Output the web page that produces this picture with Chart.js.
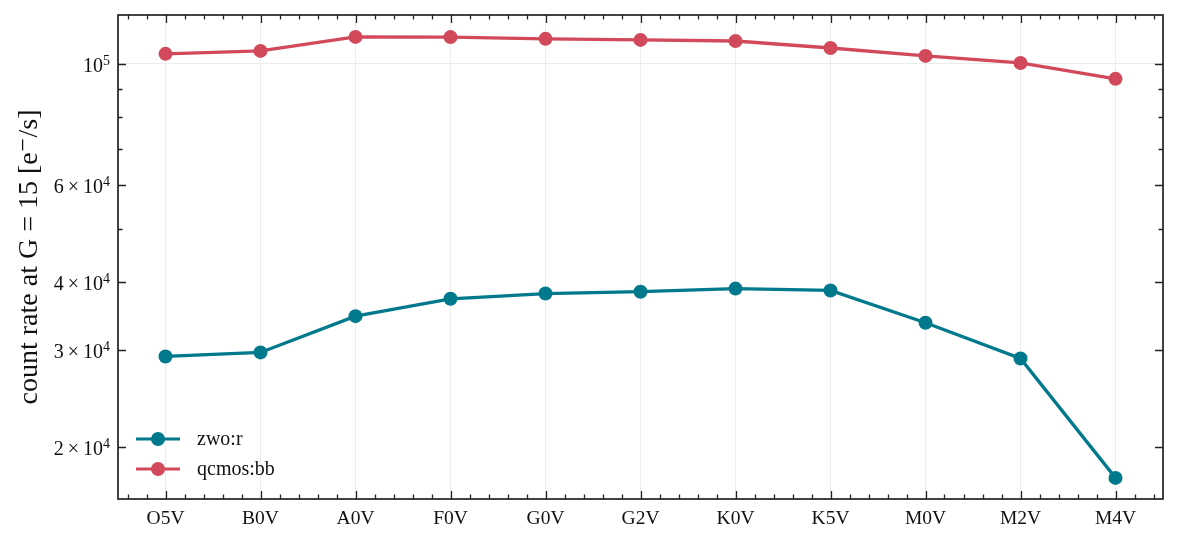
<!DOCTYPE html>
<html>
<head>
<meta charset="utf-8">
<script src="https://cdn.jsdelivr.net/npm/chart.js@4.4.1/dist/chart.umd.min.js"></script>
<style>
  html, body { margin: 0; padding: 0; background: #fff; }
</style>
</head>
<body>
<canvas id="countRate" width="1179" height="542"></canvas>
<script>
// spectral types along x
const spectralTypes = ['O5V', 'B0V', 'A0V', 'F0V', 'G0V', 'G2V', 'K0V', 'K5V', 'M0V', 'M2V', 'M4V'];

// count rates [e-/s]
const zwoR = [29250, 29750, 34650, 37270, 38100, 38400, 38900, 38600, 33700, 29000, 17560];
const qcmosBB = [104300, 105600, 112000, 111900, 111100, 110600, 110100, 106900, 103400, 100400, 93900];

// y ticks: mantissa list, and which carry labels
const yTickValues = [20000, 30000, 40000, 50000, 60000, 70000, 80000, 90000, 100000];
const yTickLabels = {
    20000: ['2\u2009\u00d7\u200910', '4'],
    30000: ['3\u2009\u00d7\u200910', '4'],
    40000: ['4\u2009\u00d7\u200910', '4'],
    60000: ['6\u2009\u00d7\u200910', '4'],
    100000: ['10', '5']
};
const yMin = 16070, yMax = 122800;

const teal = '#00798c';
const red = '#d1495b';
const serif = '"Liberation Serif", "DejaVu Serif", serif';

// frame, inward ticks, y labels, y title, legend
const decorations = {
    id: 'decorations',
    afterDraw(chart) {
        const c = chart.ctx;
        const a = chart.chartArea;
        const xs = chart.scales.x, ys = chart.scales.y;
        c.save();
        c.strokeStyle = '#222';
        c.lineWidth = 1.3;
        // y ticks both sides
        yTickValues.forEach(v => {
            const y = Math.round(ys.getPixelForValue(v)) + 0.5;
            const len = yTickLabels[v] ? 8 : 4.5;
            c.beginPath();
            c.moveTo(a.left, y); c.lineTo(a.left + len, y);
            c.moveTo(a.right, y); c.lineTo(a.right - len, y);
            c.stroke();
        });
        // x ticks, major + 4 minor per category
        const step = xs.getPixelForValue(1) - xs.getPixelForValue(0);
        for (let i = -1; i <= spectralTypes.length; i++) {
            for (let k = 0; k < 5; k++) {
                const x = Math.round(xs.getPixelForValue(0) + (i + k / 5) * step) + 0.5;
                if (x < a.left + 2 || x > a.right - 2) continue;
                const len = k === 0 ? 8 : 4.5;
                c.beginPath();
                c.moveTo(x, a.bottom); c.lineTo(x, a.bottom - len);
                c.moveTo(x, a.top); c.lineTo(x, a.top + len);
                c.stroke();
            }
        }
        // frame
        c.lineWidth = 1.7;
        c.strokeRect(a.left, a.top, a.right - a.left, a.bottom - a.top);

        // y tick labels with superscript exponent
        c.fillStyle = '#111';
        c.textBaseline = 'alphabetic';
        Object.keys(yTickLabels).forEach(k => {
            const v = Number(k);
            const [base, exp] = yTickLabels[k];
            const y = ys.getPixelForValue(v);
            c.font = '14px ' + serif;
            const ew = c.measureText(exp).width;
            c.textAlign = 'right';
            const right = a.left - 8;
            c.fillText(exp, right, y + 1);
            c.font = '20px ' + serif;
            c.fillText(base, right - ew, y + 8);
        });

        // y title
        c.save();
        c.translate(30, (a.top + a.bottom) / 2);
        c.rotate(-Math.PI / 2);
        c.textAlign = 'center';
        c.textBaseline = 'middle';
        c.font = '28px ' + serif;
        c.fillText('count rate at G = 15 [e\u207b/s]', 0, 0);
        c.restore();

        // legend
        chart.data.datasets.forEach((ds, i) => {
            const y = a.top + 424 + i * 30;
            const x0 = a.left + 18;
            c.strokeStyle = ds.borderColor;
            c.lineWidth = 3.2;
            c.beginPath();
            c.moveTo(x0, y); c.lineTo(x0 + 44, y);
            c.stroke();
            c.fillStyle = ds.borderColor;
            c.beginPath();
            c.arc(x0 + 22, y, 7, 0, Math.PI * 2);
            c.fill();
            c.fillStyle = '#111';
            c.font = '20px ' + serif;
            c.textAlign = 'left';
            c.textBaseline = 'middle';
            c.fillText(ds.label, x0 + 61, y + 1);
        });
        c.restore();
    }
};

new Chart(document.getElementById('countRate'), {
    type: 'line',
    data: {
        labels: spectralTypes,
        datasets: [{
            label: 'zwo:r',
            data: zwoR,
            borderColor: teal,
            backgroundColor: teal
        }, {
            label: 'qcmos:bb',
            data: qcmosBB,
            borderColor: red,
            backgroundColor: red
        }]
    },
    options: {
        responsive: false,
        animation: false,
        devicePixelRatio: 1,
        borderWidth: 3.3,
        pointRadius: 7,
        pointHoverRadius: 7,
        pointBorderWidth: 0,
        tension: 0,
        layout: { padding: { left: 118, right: 16, top: 15, bottom: 9 } },
        plugins: {
            legend: { display: false },
            tooltip: { enabled: false }
        },
        scales: {
            x: {
                offset: true,
                afterFit: scale => { scale.height = 34; },
                grid: { color: '#ececec', lineWidth: 1, drawTicks: false, offset: false },
                border: { display: false },
                ticks: { color: '#111', font: { family: serif, size: 19.5 }, padding: 8, maxRotation: 0 }
            },
            y: {
                type: 'logarithmic',
                min: yMin,
                max: yMax,
                afterBuildTicks: scale => { scale.ticks = yTickValues.map(v => ({ value: v })); },
                afterFit: scale => { scale.width = 0; },
                grid: {
                    drawTicks: false,
                    color: ctx => ctx.tick && ctx.tick.value === 100000 ? '#ececec' : 'rgba(0,0,0,0)'
                },
                border: { display: false },
                ticks: { display: false }
            }
        }
    },
    plugins: [decorations]
});
</script>
</body>
</html>
